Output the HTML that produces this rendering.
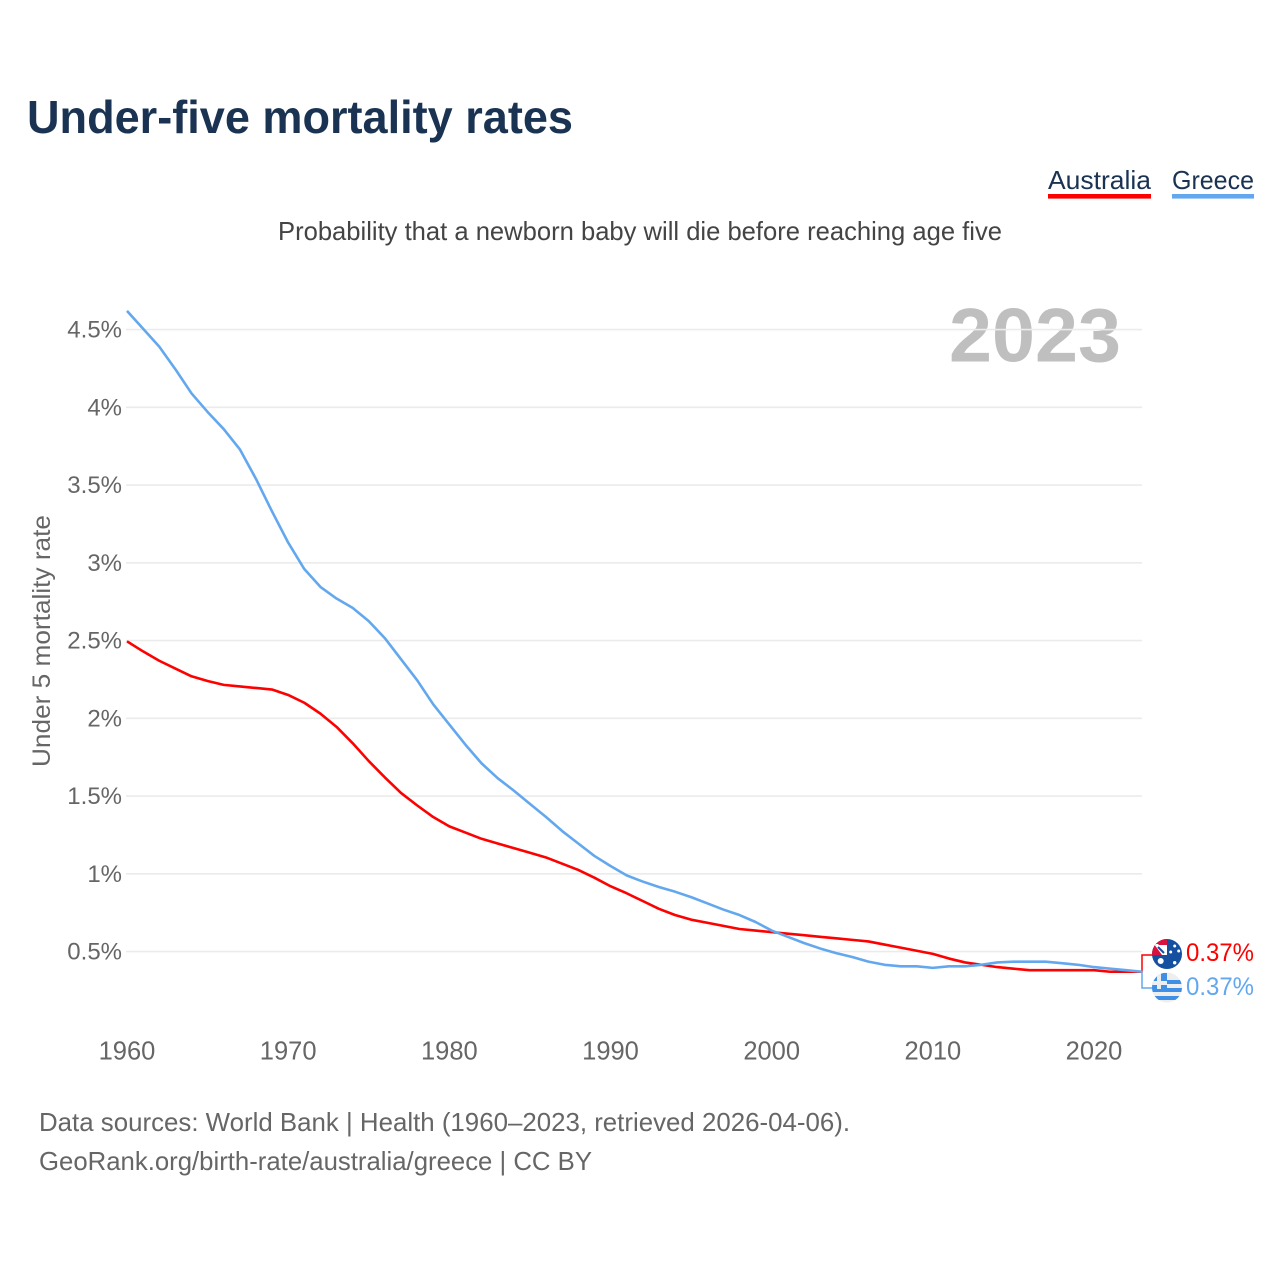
<!DOCTYPE html>
<html lang="en">
<head>
<meta charset="utf-8">
<title>Under-five mortality rates</title>
<style>
html,body{margin:0;padding:0;background:#fff;width:1280px;height:1280px;overflow:hidden}
svg{display:block;font-family:"Liberation Sans",sans-serif}
</style>
</head>
<body>
<svg id="chart" width="1280" height="1280" viewBox="0 0 1280 1280" xmlns="http://www.w3.org/2000/svg">
  <defs>
    <clipPath id="clip-au"><circle cx="1167" cy="954" r="15"/></clipPath>
    <clipPath id="clip-gr"><circle cx="1167" cy="987.5" r="15"/></clipPath>
  </defs>
  <text x="27" y="133" font-size="46" font-weight="700" fill="#1a3353" textLength="546" lengthAdjust="spacingAndGlyphs">Under-five mortality rates</text>

  <g>
    <g>
      <text x="1048" y="189" font-size="26" fill="#1a3353" textLength="103" lengthAdjust="spacingAndGlyphs">Australia</text>
      <rect x="1048" y="194" width="103" height="4.6" fill="#ff0000"/>
    </g>
    <g>
      <text x="1172" y="189" font-size="26" fill="#1a3353" textLength="82" lengthAdjust="spacingAndGlyphs">Greece</text>
      <rect x="1172" y="194" width="82" height="4.6" fill="#63a8ee"/>
    </g>
  </g>

  <text x="278" y="240" font-size="26" fill="#444444" textLength="724" lengthAdjust="spacingAndGlyphs">Probability that a newborn baby will die before reaching age five</text>
  <text x="949" y="361.5" font-size="76" font-weight="700" fill="#bfbfbf" textLength="172" lengthAdjust="spacingAndGlyphs">2023</text>
  <text transform="translate(50,767) rotate(-90)" font-size="25" fill="#666666" textLength="252" lengthAdjust="spacingAndGlyphs">Under 5 mortality rate</text>

  <g id="grid"></g>
  <g id="yticks"></g>
  <g id="xticks"></g>
  <g id="connectors"></g>
  <g id="series"></g>

  <g clip-path="url(#clip-au)">
    <rect x="1150" y="937" width="34" height="34" fill="#14509f"/>
    <rect x="1150" y="937" width="17" height="18" fill="#d8123c"/>
    <path d="M1157 945 h10 v10 h-3z" fill="#ffffff"/>
    <path d="M1154 944 h4 l9 9 v2 h-5z" fill="#ffffff"/>
    <path d="M1158 947 L1164 953" stroke="#14509f" stroke-width="2"/>
    <circle cx="1160.7" cy="961" r="3" fill="#ffffff"/>
    <circle cx="1174.7" cy="946" r="1.5" fill="#ffffff"/>
    <circle cx="1178.7" cy="951" r="1.5" fill="#ffffff"/>
    <circle cx="1170.7" cy="952" r="1.5" fill="#ffffff"/>
    <circle cx="1174.7" cy="962.7" r="1.7" fill="#ffffff"/>
  </g>
  <g clip-path="url(#clip-gr)">
    <rect x="1150" y="971" width="34" height="34" fill="#eeeeee"/>
    <rect x="1167" y="980" width="17" height="4" fill="#3f8fe6"/>
    <rect x="1150" y="988" width="34" height="4" fill="#3f8fe6"/>
    <rect x="1150" y="996" width="34" height="4" fill="#3f8fe6"/>
    <rect x="1150" y="973" width="17" height="16" fill="#3f8fe6"/>
    <rect x="1150" y="981" width="17" height="4" fill="#eeeeee"/>
    <rect x="1157" y="973" width="4" height="16" fill="#eeeeee"/>
  </g>

  <text x="1186" y="961" font-size="25" fill="#ff0000" textLength="68" lengthAdjust="spacingAndGlyphs">0.37%</text>
  <text x="1186" y="995" font-size="25" fill="#63a8ee" textLength="68" lengthAdjust="spacingAndGlyphs">0.37%</text>

  <text x="39" y="1131" font-size="26" fill="#666666" textLength="811" lengthAdjust="spacingAndGlyphs">Data sources: World Bank | Health (1960–2023, retrieved 2026-04-06).</text>
  <text x="39" y="1170" font-size="26" fill="#666666" textLength="553" lengthAdjust="spacingAndGlyphs">GeoRank.org/birth-rate/australia/greece | CC BY</text>
</svg>
<script>
const startYear = 1960;
const yTickValues = [0.5, 1, 1.5, 2, 2.5, 3, 3.5, 4, 4.5];
const yTickLabels = ["0.5%", "1%", "1.5%", "2%", "2.5%", "3%", "3.5%", "4%", "4.5%"];
const xTickYears = [1960, 1970, 1980, 1990, 2000, 2010, 2020];
const australia = [2.495,2.43,2.37,2.32,2.27,2.24,2.215,2.205,2.195,2.185,2.15,2.10,2.03,1.945,1.84,1.725,1.62,1.52,1.44,1.365,1.305,1.265,1.225,1.195,1.165,1.135,1.105,1.065,1.025,0.975,0.92,0.875,0.825,0.775,0.735,0.705,0.685,0.665,0.645,0.635,0.625,0.615,0.605,0.595,0.585,0.575,0.565,0.545,0.525,0.505,0.485,0.455,0.43,0.415,0.40,0.39,0.38,0.38,0.38,0.38,0.38,0.37,0.37,0.37];
const greece = [4.62,4.505,4.39,4.245,4.09,3.97,3.86,3.73,3.54,3.33,3.13,2.96,2.845,2.77,2.71,2.625,2.515,2.38,2.245,2.09,1.96,1.83,1.71,1.615,1.535,1.45,1.365,1.275,1.195,1.115,1.05,0.99,0.95,0.915,0.885,0.85,0.81,0.77,0.735,0.69,0.635,0.595,0.555,0.52,0.49,0.465,0.435,0.415,0.405,0.405,0.395,0.405,0.405,0.415,0.43,0.435,0.435,0.435,0.425,0.415,0.40,0.39,0.38,0.37];

const NS = "http://www.w3.org/2000/svg";
function xScale(year) { return 127 + (year - 1960) * 16.117; }
function yScale(v) { return 1029.3 - v * 155.5; }
function make(tag, attrs) {
  const el = document.createElementNS(NS, tag);
  for (const k in attrs) el.setAttribute(k, attrs[k]);
  return el;
}

const grid = document.getElementById("grid");
const yticks = document.getElementById("yticks");
yTickValues.forEach(function (v, i) {
  const line = make("line", {x1: 126, x2: 1142, y1: yScale(v), y2: yScale(v), stroke: "#ebebeb", "stroke-width": 1.6});
  
  
  grid.appendChild(line);
  const label = make("text", {x: 122, y: yScale(v) + 8, "text-anchor": "end", "font-size": 24, fill: "#666666"});
  
  
  label.textContent = yTickLabels[i];
  yticks.appendChild(label);
});

const xticks = document.getElementById("xticks");
xTickYears.forEach(function (yr) {
  const label = make("text", {x: xScale(yr), y: 1059.5, "text-anchor": "middle", "font-size": 25.5, fill: "#666666"});
  
  
  label.textContent = String(yr);
  xticks.appendChild(label);
});

function linePath(values) {
  return values.map(function (v, i) {
    return (i ? "L" : "M") + xScale(startYear + i).toFixed(2) + " " + yScale(v).toFixed(2);
  }).join(" ");
}
const series = document.getElementById("series");
const redLine = make("path", {d: linePath(australia), fill: "none", stroke: "#ff0000", "stroke-width": 2.6, "stroke-linejoin": "round"});


series.appendChild(redLine);
const blueLine = make("path", {d: linePath(greece), fill: "none", stroke: "#63a8ee", "stroke-width": 2.6, "stroke-linejoin": "round"});


series.appendChild(blueLine);

const connectors = document.getElementById("connectors");
const endX = 1142;
const redConn = make("path", {d: "M" + endX + " " + yScale(australia[australia.length - 1]) + " V955 H1153", fill: "none", stroke: "#ff0000", "stroke-width": 1.5});


connectors.appendChild(redConn);
const blueConn = make("path", {d: "M" + endX + " " + yScale(greece[greece.length - 1]) + " V988 H1153", fill: "none", stroke: "#63a8ee", "stroke-width": 1.5});


connectors.appendChild(blueConn);
</script>
</body>
</html>
